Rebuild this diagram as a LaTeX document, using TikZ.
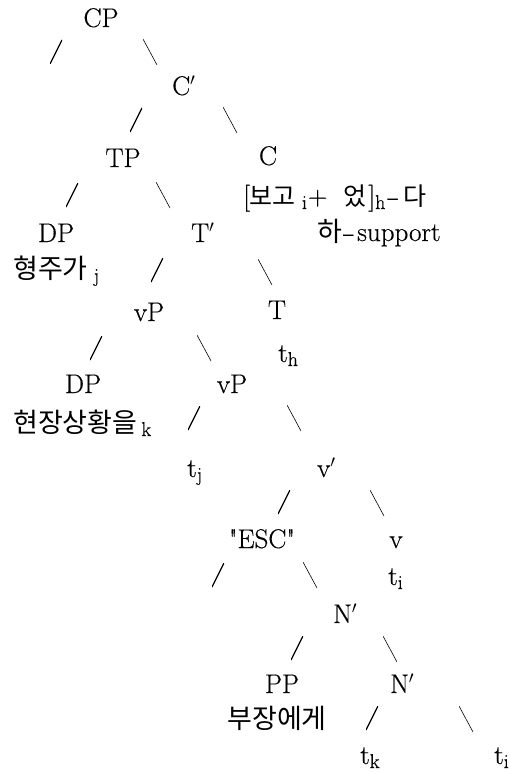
\documentclass[tikz,border=0pt]{standalone}
\usepackage{fontspec}
\setmainfont{Latin Modern Roman}[FakeBold=0.4]
\newfontfamily\kr{Noto Sans CJK KR}
\newcommand\sbs[1]{\raisebox{-4pt}{\fontsize{20}{22}\selectfont #1}}
\newcommand\lhy{\scalebox{1.5}[1]{-}}
\begin{document}
\begin{tikzpicture}[x=1pt,y=-1pt,
  lab/.style={inner sep=0pt, anchor=base, font=\fontsize{27}{30}\selectfont},
  labw/.style={lab, anchor=base west},
  fwd/.style={inner sep=0pt, minimum width=12pt, minimum height=24pt,
    path picture={\draw[line width=1.3pt] (path picture bounding box.south west) -- (path picture bounding box.north east);}},
  bwd/.style={inner sep=0pt, minimum width=14pt, minimum height=26pt,
    path picture={\draw[line width=0.6pt] (path picture bounding box.north west) -- (path picture bounding box.south east);}}
]
\fill[white] (0,0) rectangle (509,773);
\useasboundingbox (0,0) rectangle (509,773);

% labels
\node[lab]  (cp)    at (101,27)  {CP};
\node[labw] (cbar)  at (172,95)  {C$'$};
\node[lab]  (tp)    at (123,167) {TP};
\node[lab]  (c)     at (268,165) {C};
\node[labw] (cform) at (243,205) {[{\kr\fontsize{25}{30}\selectfont 보고}\kern6pt\sbs{i}\kern1pt+\kern16pt{\kr\fontsize{25}{30}\selectfont 었}\kern2pt]\sbs{h}\kern2pt\lhy\kern4pt{\kr\fontsize{25}{30}\selectfont 다}};
\node[lab]  (dp1)   at (56,242)  {DP};
\node[labw] (tbar)  at (191,242) {T$'$};
\node[labw] (hasup) at (317,241) {{\kr 하}\kern1pt\lhy\kern2pt support};
\node[labw] (hj)    at (13,278)  {{\kr 형주가}\kern6pt\sbs{j}};
\node[lab]  (vp1)   at (149,321) {vP};
\node[lab]  (t)     at (277,319) {T};
\node[labw] (th)    at (278,362) {t\sbs{h}};
\node[lab]  (dp2)   at (83,393)  {DP};
\node[lab]  (vp2)   at (232,393) {vP};
\node[labw] (hk)    at (13,432)  {{\kr 현장상황을}\kern4pt\sbs{k}};
\node[labw] (tj)    at (187,477) {t\sbs{j}};
\node[labw] (vbar)  at (317,477) {v$'$};
\node[lab]  (esc)   at (262,548) {\textquotedbl ESC\textquotedbl};
\node[lab]  (v)     at (396,548) {v};
\node[labw] (ti1)   at (388,585) {t\sbs{i}};
\node[labw] (nbar1) at (333,623) {N$'$};
\node[lab]  (pp)    at (282,693) {PP};
\node[labw] (nbar2) at (390,693) {N$'$};
\node[lab]  (bj)    at (277,728) {\kr 부장에게};
\node[labw] (tk)    at (360,764) {t\sbs{k}};
\node[labw] (ti2)   at (494,764) {t\sbs{i}};

% branch marks
\node[fwd] (f1)  at (56,52)   {};
\node[bwd] (b1)  at (150,52)  {};
\node[fwd] (f2)  at (136,120) {};
\node[bwd] (b2)  at (230,120) {};
\node[fwd] (f3)  at (72,195)  {};
\node[bwd] (b3)  at (163,195) {};
\node[fwd] (f4)  at (157,270) {};
\node[bwd] (b4)  at (265,272) {};
\node[fwd] (f5)  at (96,348)  {};
\node[bwd] (b5)  at (204,348) {};
\node[fwd] (f6)  at (194,418) {};
\node[bwd] (b6)  at (294,418) {};
\node[fwd] (f7)  at (284,502) {};
\node[bwd] (b7)  at (377,503) {};
\node[fwd] (f8)  at (218,575) {};
\node[bwd] (b8)  at (310,575) {};
\node[fwd] (f9)  at (297,648) {};
\node[bwd] (b9)  at (390,649) {};
\node[fwd] (f10) at (372,718) {};
\node[bwd] (b10) at (466,719) {};
\end{tikzpicture}
\end{document}
